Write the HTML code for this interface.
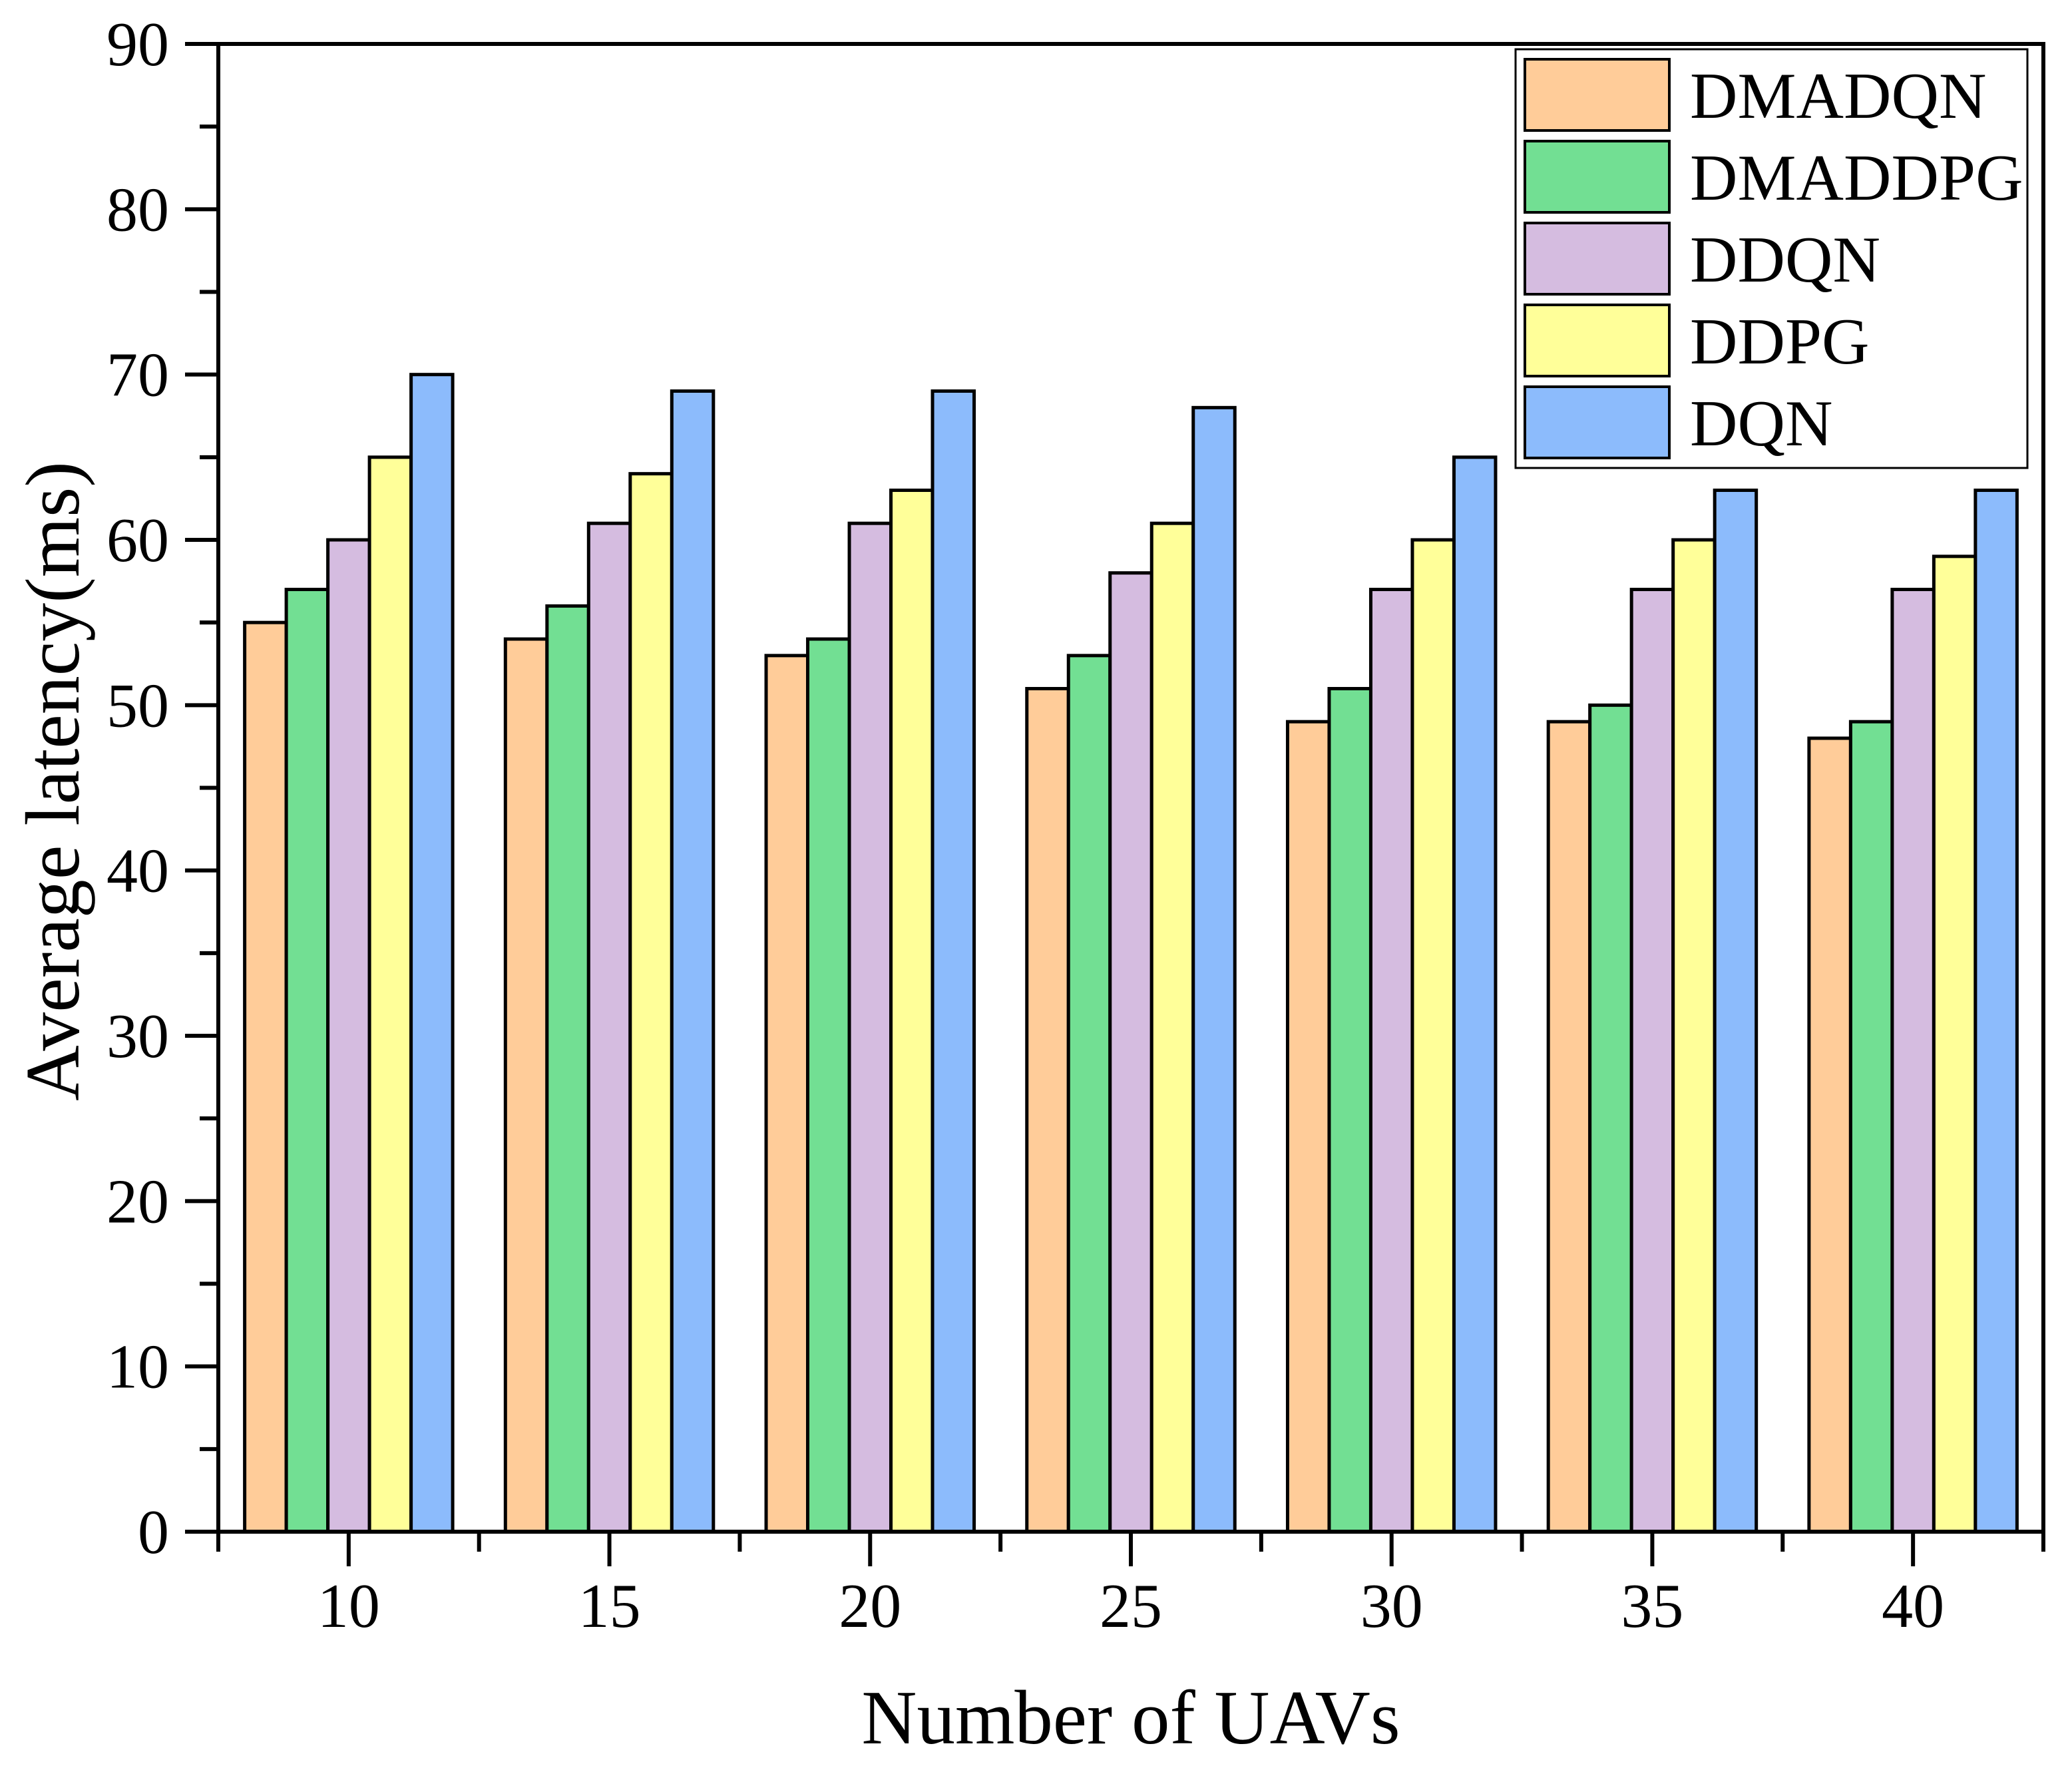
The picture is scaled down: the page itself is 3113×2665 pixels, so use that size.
<!DOCTYPE html>
<html><head><meta charset="utf-8"><style>
html,body{margin:0;padding:0;background:#fff}
svg{display:block}
text{font-family:"Liberation Serif",serif;fill:#000}
</style></head><body>
<svg id="chart" width="3113" height="2665" viewBox="0 0 3113 2665" xmlns="http://www.w3.org/2000/svg">
<g id="bars"></g>
<g id="axes"></g>
<g id="legend"></g>
</svg>
<script>
const categories = [10, 15, 20, 25, 30, 35, 40];
const seriesNames = ["DMADQN", "DMADDPG", "DDQN", "DDPG", "DQN"];
const dmadqn = [55, 54, 53, 51, 49, 49, 48];
const dmaddpg = [57, 56, 54, 53, 51, 50, 49];
const ddqn = [60, 61, 61, 58, 57, 57, 57];
const ddpg = [65, 64, 63, 61, 60, 60, 59];
const dqn = [70, 69, 69, 68, 65, 63, 63];
const yTicks = [0, 10, 20, 30, 40, 50, 60, 70, 80, 90];

const series = [dmadqn, dmaddpg, ddqn, ddpg, dqn];
const colors = ["#FFCC99", "#72DF93", "#D5BCE0", "#FFFF99", "#8CBBFC"];
const NS = "http://www.w3.org/2000/svg";
const L = 328, R = 3070, T = 66, B = 2301;
const xMin = 7.5, xMax = 42.5, yMin = 0, yMax = 90;
function xs(v){ return L + (v - xMin) / (xMax - xMin) * (R - L); }
function ys(v){ return B - (v - yMin) / (yMax - yMin) * (B - T); }
function mk(tag, attrs, parent){ const e = document.createElementNS(NS, tag); for (const k in attrs) e.setAttribute(k, attrs[k]); parent.appendChild(e); return e; }

const gBars = document.getElementById('bars');
const gAxes = document.getElementById('axes');
const gLeg = document.getElementById('legend');
const barW = 62.5;
categories.forEach((c, i) => {
  const cx = xs(c);
  series.forEach((s, j) => {
    const x0 = cx + (j - 2.5) * barW;
    const r = mk('rect', {x: x0, y: ys(s[i]), width: barW, height: ys(0) - ys(s[i]), fill: colors[j], stroke: '#000', 'stroke-width': 5}, gBars);
    
    
  });
});

const fr = mk('rect', {x: L, y: T, width: R - L, height: B - T, fill: 'none', stroke: '#000', 'stroke-width': 6}, gAxes);



yTicks.forEach(v => {
  const y = ys(v);
  mk('line', {x1: L - 50, x2: L, y1: y, y2: y, stroke: '#000', 'stroke-width': 6}, gAxes);
  const t = mk('text', {x: 254, y: y + 32, 'font-size': 94, 'text-anchor': 'end'}, gAxes);
  t.textContent = v;
  
  
  if (v < yMax) {
    const ym = ys(v + 5);
    mk('line', {x1: L - 28, x2: L, y1: ym, y2: ym, stroke: '#000', 'stroke-width': 6}, gAxes);
  }
});
categories.forEach(c => {
  const x = xs(c);
  mk('line', {x1: x, x2: x, y1: B, y2: B + 52, stroke: '#000', 'stroke-width': 6}, gAxes);
  const t = mk('text', {x: x, y: 2444, 'font-size': 94, 'text-anchor': 'middle'}, gAxes);
  t.textContent = c;
  
  
});
for (let v = xMin; v <= xMax + 0.01; v += 5) {
  const x = xs(v);
  mk('line', {x1: x, x2: x, y1: B, y2: B + 30, stroke: '#000', 'stroke-width': 6}, gAxes);
}
const xt = mk('text', {x: (L + R) / 2, y: 2619, 'font-size': 115, 'text-anchor': 'middle'}, gAxes);
xt.textContent = 'Number of UAVs';


const yt = mk('text', {x: 0, y: 0, 'font-size': 116, 'text-anchor': 'middle', transform: 'translate(118,' + ((T + B) / 2 - 10) + ') rotate(-90)'}, gAxes);
yt.textContent = 'Average latency(ms)';



const lb = mk('rect', {x: 2277, y: 74, width: 769, height: 629, fill: '#fff', stroke: '#000', 'stroke-width': 3}, gLeg);


seriesNames.forEach((n, j) => {
  const y0 = 89 + j * 123;
  const sw = mk('rect', {x: 2291, y: y0, width: 217, height: 107, fill: colors[j], stroke: '#000', 'stroke-width': 4}, gLeg);
  
  
  const t = mk('text', {x: 2539, y: y0 + 88, 'font-size': 99}, gLeg);
  t.textContent = n;
  
  
});
</script>
</body></html>
